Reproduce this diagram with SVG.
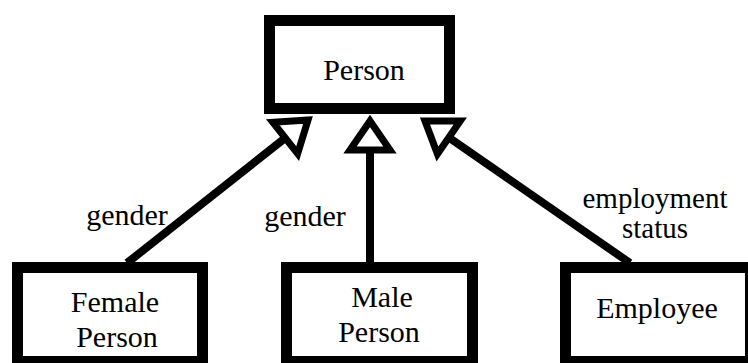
<svg xmlns="http://www.w3.org/2000/svg" width="748" height="363" viewBox="0 0 748 363">
<style>
.box{fill:#fff;stroke:#000;stroke-width:11}
text{font-family:'Liberation Serif','DejaVu Serif',serif;font-size:30px;fill:#000;text-anchor:middle}
.line{stroke:#000;stroke-width:8;fill:none;marker-end:url(#tri)}
</style>
<defs>
<marker id="tri" markerUnits="userSpaceOnUse" viewBox="-45 -30 60 60" markerWidth="60" markerHeight="60" refX="0" refY="0" orient="auto">
<path d="M0,0 L-29,-20 L-29,20 Z" fill="#fff" stroke="#000" stroke-width="7" stroke-linejoin="miter"/>
</marker>
</defs>
<rect width="748" height="363" fill="#fff"/>
<g id="connectors">
<line class="line" x1="127" y1="263" x2="308" y2="120"/>
<line class="line" x1="370" y1="262" x2="370" y2="121"/>
<line class="line" x1="630" y1="263" x2="425" y2="121"/>
<text font-family="Liberation Serif, serif" x="127" y="225">gender</text>
<text font-family="Liberation Serif, serif" x="305" y="226">gender</text>
<text font-family="Liberation Serif, serif" x="655" y="208" style="font-size:29px">employment</text>
<text font-family="Liberation Serif, serif" x="655" y="238" style="font-size:29px">status</text>
</g>
<g id="person">
<rect class="box" x="269.5" y="20.5" width="180" height="88"/>
<text font-family="Liberation Serif, serif" x="364" y="80">Person</text>
</g>
<g id="female-person">
<rect class="box" x="17.5" y="267.5" width="185" height="94"/>
<text font-family="Liberation Serif, serif" x="115" y="312">Female</text>
<text font-family="Liberation Serif, serif" x="117" y="347">Person</text>
</g>
<g id="male-person">
<rect class="box" x="286.5" y="267.5" width="186" height="94"/>
<text font-family="Liberation Serif, serif" x="382" y="307">Male</text>
<text font-family="Liberation Serif, serif" x="379" y="342">Person</text>
</g>
<g id="employee">
<rect class="box" x="565.5" y="267.5" width="185" height="94"/>
<text font-family="Liberation Serif, serif" x="657" y="318">Employee</text>
</g>
</svg>
